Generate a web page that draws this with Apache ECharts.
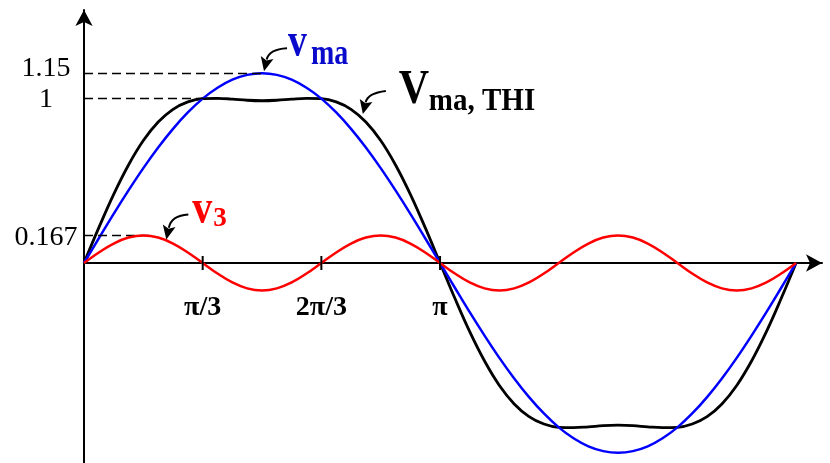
<!DOCTYPE html>
<html>
<head>
<meta charset="utf-8">
<script src="https://cdn.jsdelivr.net/npm/echarts@6/dist/echarts.min.js"></script>
<style>
  html, body { margin: 0; padding: 0; background: #fff; }
  #chart { width: 830px; height: 463px; }
</style>
</head>
<body>
<div id="chart"></div>
<script>
// Angle samples in degrees over one full period (0 .. 2π)
const angles = [
  0, 7.5, 15, 22.5, 30, 37.5, 45, 52.5, 60, 67.5, 75, 82.5, 90,
  97.5, 105, 112.5, 120, 127.5, 135, 142.5, 150, 157.5, 165, 172.5, 180,
  187.5, 195, 202.5, 210, 217.5, 225, 232.5, 240, 247.5, 255, 262.5, 270,
  277.5, 285, 292.5, 300, 307.5, 315, 322.5, 330, 337.5, 345, 352.5, 360
];

// Modulating signal v_ma
const vMa = [
  0, 0.150, 0.298, 0.440, 0.575, 0.700, 0.813, 0.912, 0.996, 1.062, 1.111, 1.140, 1.150,
  1.140, 1.111, 1.062, 0.996, 0.912, 0.813, 0.700, 0.575, 0.440, 0.298, 0.150, 0,
  -0.150, -0.298, -0.440, -0.575, -0.700, -0.813, -0.912, -0.996, -1.062, -1.111, -1.140, -1.150,
  -1.140, -1.111, -1.062, -0.996, -0.912, -0.813, -0.700, -0.575, -0.440, -0.298, -0.150, 0
];

// Third-harmonic component v_3
const v3 = [
  0, 0.064, 0.118, 0.154, 0.167, 0.154, 0.118, 0.064, 0, -0.064, -0.118, -0.154, -0.167,
  -0.154, -0.118, -0.064, 0, 0.064, 0.118, 0.154, 0.167, 0.154, 0.118, 0.064, 0,
  -0.064, -0.118, -0.154, -0.167, -0.154, -0.118, -0.064, 0, 0.064, 0.118, 0.154, 0.167,
  0.154, 0.118, 0.064, 0, -0.064, -0.118, -0.154, -0.167, -0.154, -0.118, -0.064, 0
];

// Third-harmonic injected reference V_ma,THI
const vThi = [
  0, 0.214, 0.416, 0.594, 0.742, 0.854, 0.931, 0.976, 0.996, 0.998, 0.993, 0.986, 0.983,
  0.986, 0.993, 0.998, 0.996, 0.976, 0.931, 0.854, 0.742, 0.594, 0.416, 0.214, 0,
  -0.214, -0.416, -0.594, -0.742, -0.854, -0.931, -0.976, -0.996, -0.998, -0.993, -0.986, -0.983,
  -0.986, -0.993, -0.998, -0.996, -0.976, -0.931, -0.854, -0.742, -0.594, -0.416, -0.214, 0
];

// Axis ticks and labels
const xTicks = [60, 120, 180];
const xTickLabels = ['π/3', '2π/3', 'π'];
const yTicks = [0.167, 1, 1.15];
const yTickLabels = ['0.167', '1', '1.15'];

// Dashed guide levels and where each guide stops (degrees)
const guideLevels = [1.15, 1, 0.167];
const guideEnds = [90, 74, 33];

const SERIF = '"Liberation Serif", "Times New Roman", serif';
const BLUE = '#0000ff';
const RED = '#ff0000';

const pairs = (ys) => angles.map((a, i) => [a, ys[i]]);

const chart = echarts.init(document.getElementById('chart'), null, { renderer: 'canvas' });

const guideLines = guideLevels.map((lv, i) => [
  { coord: [0, lv] },
  { coord: [guideEnds[i], lv] }
]);

chart.setOption({
  animation: false,
  backgroundColor: '#fff',
  grid: { left: 84, right: 8, top: 10, bottom: 0, containLabel: false, outerBoundsMode: 'none' },
  xAxis: {
    type: 'value',
    min: 0,
    max: 373.1,
    axisLine: {
      onZero: true,
      symbol: ['none', 'arrow'],
      symbolSize: [13, 16],
      lineStyle: { color: '#000', width: 2 }
    },
    axisTick: { show: false },
    splitLine: { show: false },
    axisLabel: { show: false }
  },
  yAxis: {
    type: 'value',
    min: -1.212,
    max: 1.533,
    axisLine: {
      onZero: false,
      symbol: ['none', 'arrow'],
      symbolSize: [13, 16],
      lineStyle: { color: '#000', width: 2 }
    },
    axisTick: { show: false },
    splitLine: { show: false },
    axisLabel: {
      customValues: yTicks,
      formatter: (v) => {
        const t = yTickLabels[yTicks.indexOf(v)] || '';
        return v === 1.15 ? '{up|' + t + '}' : '{dn|' + t + '}';
      },
      margin: 38,
      align: 'center',
      rich: {
        up: { fontFamily: SERIF, fontSize: 28, color: '#000', padding: [0, 0, 10, 0] },
        dn: { fontFamily: SERIF, fontSize: 28, color: '#000', padding: [4, 0, 0, 0] }
      }
    }
  },
  series: [
    {
      name: 'V_ma,THI',
      type: 'line',
      data: pairs(vThi),
      smooth: 0.4,
      symbol: 'none',
      lineStyle: { color: '#000', width: 2.8 },
      z: 3,
      markLine: {
        silent: true,
        symbol: ['none', 'none'],
        label: { show: false },
        lineStyle: { color: '#000', width: 1.4, type: [9, 5] },
        data: guideLines
      }
    },
    {
      name: 'v_ma',
      type: 'line',
      data: pairs(vMa),
      smooth: 0.4,
      symbol: 'none',
      lineStyle: { color: BLUE, width: 2.5 },
      z: 4
    },
    {
      name: 'v_3',
      type: 'line',
      data: pairs(v3),
      smooth: 0.4,
      symbol: 'none',
      lineStyle: { color: RED, width: 2.5 },
      z: 5
    },
    {
      // crossing tick marks on the horizontal axis, with their angle labels
      name: 'ticks',
      type: 'scatter',
      data: xTicks.map((t, i) => ({ value: [t, 0], name: xTickLabels[i] })),
      symbol: 'rect',
      symbolSize: [2, 14],
      itemStyle: { color: '#000', opacity: 1 },
      label: {
        show: true,
        position: 'bottom',
        distance: 24,
        formatter: (p) => '{t|' + p.name + '}',
        rich: {
          t: {
            fontFamily: SERIF,
            fontWeight: 'bold',
            fontSize: 28,
            color: '#000'
          }
        }
      },
      emphasis: { disabled: true },
      silent: true,
      z: 6
    }
  ]
});

// Curved call-out arrow: quadratic curve ending in a filled head
function arrow(tail, ctrl, tip, color) {
  const dx = tip[0] - ctrl[0], dy = tip[1] - ctrl[1];
  const len = Math.hypot(dx, dy);
  const ux = dx / len, uy = dy / len;
  const L = 14, W = 6.5;
  const bx = tip[0] - L * ux, by = tip[1] - L * uy;
  return [
    {
      type: 'bezierCurve',
      shape: { x1: tail[0], y1: tail[1], cpx1: ctrl[0], cpy1: ctrl[1], x2: bx + 2 * ux, y2: by + 2 * uy },
      style: { stroke: color, lineWidth: 2, fill: null },
      z: 20
    },
    {
      type: 'polygon',
      shape: { points: [tip, [bx - W * uy, by + W * ux], [bx + 3 * ux, by + 3 * uy], [bx + W * uy, by - W * ux]] },
      style: { fill: color },
      z: 20
    }
  ];
}

function label(text, x, y, size, color, sy, sx) {
  return {
    type: 'text',
    x: x, y: y,
    scaleY: sy || 1,
    scaleX: sx || 1,
    style: {
      text: text,
      fontFamily: SERIF,
      fontWeight: 'bold',
      fontSize: size,
      fill: color,
      align: 'left',
      verticalAlign: 'middle'
    },
    z: 20
  };
}

// Call-outs anchored to points on the curves
const pBlue = chart.convertToPixel({ gridIndex: 0 }, [angles[12], vMa[12]]);
const pBlack = chart.convertToPixel({ gridIndex: 0 }, [angles[19], vThi[19]]);
const pRed = chart.convertToPixel({ gridIndex: 0 }, [angles[4], v3[4]]);

const off = (p, dx, dy) => [p[0] + dx, p[1] + dy];

const graphics = [].concat(
  arrow(off(pBlue, 25, -25), off(pBlue, 7, -24), off(pBlue, 2, -2), '#000'),
  arrow(off(pBlack, 20, -31), off(pBlack, 2, -29), off(pBlack, -3, -8), '#000'),
  arrow(off(pRed, 45, -21), off(pRed, 28, -20), off(pRed, 23, 4), '#000'),
  [
    label('v', pBlue[0] + 26, pBlue[1] - 29.5, 36, '#0a0acd', 1.36, 1.05),
    label('ma', pBlue[0] + 49, pBlue[1] - 19, 28, '#0a0acd', 1.3),
    label('V', pBlack[0] + 33, pBlack[1] - 31.5, 42, '#000', 1.14),
    label('ma, THI', pBlack[0] + 63, pBlack[1] - 20, 29, '#000', 1.12),
    label('v', pRed[0] + 49, pRed[1] - 25, 40, RED, 1.2),
    label('3', pRed[0] + 70, pRed[1] - 16.5, 27, RED, 1)
  ]
);

chart.setOption({ graphic: { elements: graphics } });
</script>
</body>
</html>
